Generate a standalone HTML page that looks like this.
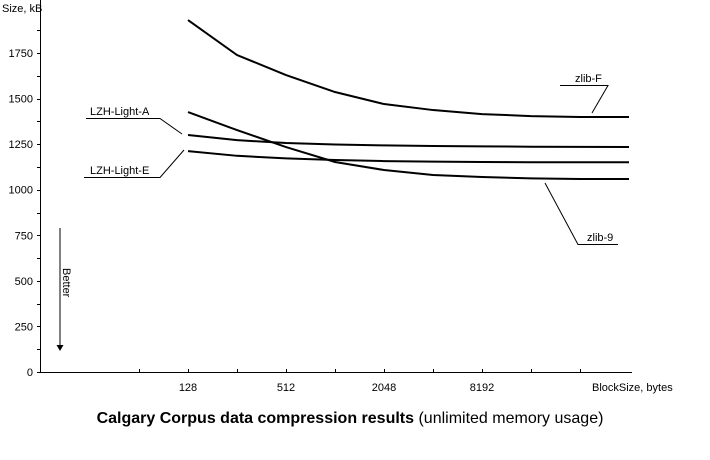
<!DOCTYPE html>
<html><head><meta charset="utf-8"><style>
body{margin:0;background:#fff;}
svg{display:block;font-family:"Liberation Sans",sans-serif;}
</style></head><body>
<svg id="chart" width="710" height="460" viewBox="0 0 710 460">
<g id="axes"></g>
<g id="series"></g>
<g id="annot" stroke="#000" stroke-width="1" fill="none">
<polyline points="560,85.5 608,85.5 592,113"/>
<polyline points="86,118.5 160,118.5 182,134"/>
<polyline points="84,177.5 160,177.5 184,150"/>
<polyline points="618,244.5 578,244.5 545,183"/>
</g>
<text x="575" y="82" font-size="11">zlib-F</text>
<text x="90" y="115" font-size="11">LZH-Light-A</text>
<text x="90" y="174" font-size="11">LZH-Light-E</text>
<text x="587" y="241" font-size="11">zlib-9</text>
<text x="0" y="0" font-size="11" transform="translate(63,268) rotate(90)">Better</text>
<line x1="60" y1="228" x2="60" y2="346" stroke="#000"/>
<polygon points="56.5,345 63.5,345 60,351" fill="#000"/>
<text x="2" y="12" font-size="11">Size, kB</text>
<text x="592" y="391" font-size="11">BlockSize, bytes</text>
<text x="350" y="423" font-size="16" text-anchor="middle"><tspan font-weight="bold">Calgary Corpus data compression results</tspan> (unlimited memory usage)</text>
</svg>
<script>
const blockSizes=[128,256,512,1024,2048,4096,8192,16384,32768,65536];
const xTickLabels=[128,512,2048,8192];
const yTicks=[0,250,500,750,1000,1250,1500,1750];
const zlibF=[1931,1739,1629,1536,1470,1437,1415,1404,1399,1399];
const lzhA=[1300,1272,1256,1248,1243,1240,1238,1236,1235,1234];
const lzhE=[1212,1186,1172,1163,1157,1154,1152,1151,1151,1151];
const zlib9=[1426,1327,1234,1152,1108,1081,1070,1062,1059,1059];
const NS="http://www.w3.org/2000/svg";
const x=v=>188+49*Math.log2(v/128);
const y=v=>372-v*(372-53)/1750;
function mk(t,a,p){const e=document.createElementNS(NS,t);for(const k in a)e.setAttribute(k,a[k]);p.appendChild(e);return e;}
const ax=document.getElementById('axes');
let l=mk('line',{x1:40.5,y1:0,x2:40.5,y2:372.5,stroke:'#000'},ax);


l=mk('line',{x1:40,y1:372.5,x2:632,y2:372.5,stroke:'#000'},ax);


for(let v=0;v<=1950;v+=125){const yy=Math.round(y(v))+0.5;
 const t=mk('line',{x1:37,y1:yy,x2:40,y2:yy,stroke:'#000'},ax);
 
 }
yTicks.forEach(v=>{const t=mk('text',{x:33,y:y(v)+4,'font-size':11,'text-anchor':'end'},ax);t.textContent=v;
 
 });
for(let i=-1;i<9;i++){const xx=Math.round(188+49*i)+0.5;
 const t=mk('line',{x1:xx,y1:369,x2:xx,y2:372,stroke:'#000'},ax);
 
 }
xTickLabels.forEach(v=>{const t=mk('text',{x:x(v),y:391,'font-size':11,'text-anchor':'middle'},ax);t.textContent=v;
 
 });
const sg=document.getElementById('series');
[['zlib-f-line',zlibF],['lzh-light-a-line',lzhA],['lzh-light-e-line',lzhE],['zlib-9-line',zlib9]].forEach(([n,d])=>{
 const p=mk('polyline',{points:d.map((v,i)=>x(blockSizes[i])+','+y(v)).join(' '),fill:'none',stroke:'#000','stroke-width':2},sg);
 
 });
</script>
</body></html>
